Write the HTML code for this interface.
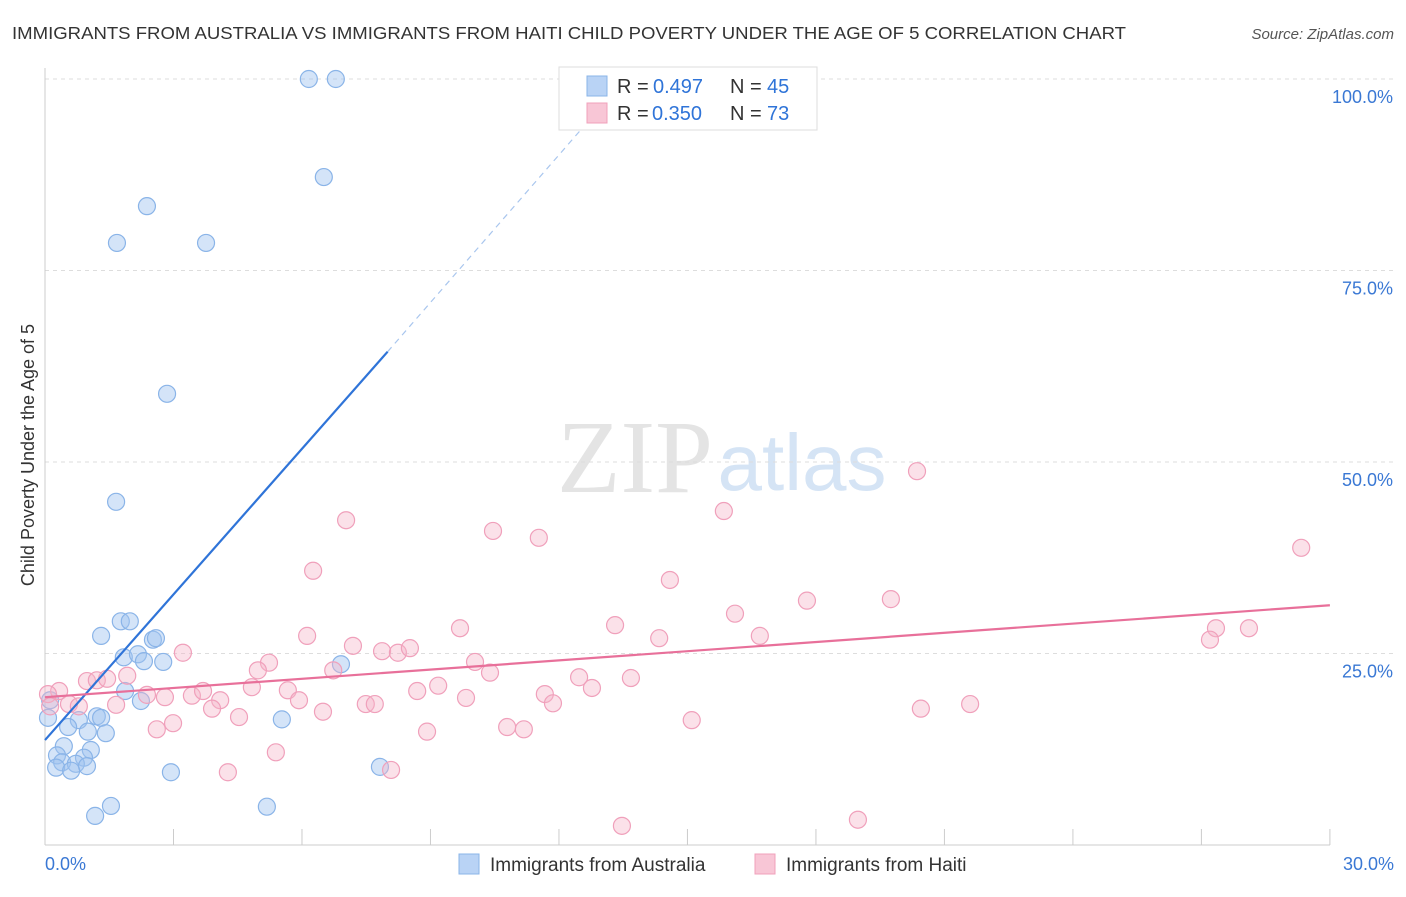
<!DOCTYPE html>
<html><head><meta charset="utf-8">
<style>
body{margin:0;background:#fff;font-family:"Liberation Sans",sans-serif;}
svg text{font-family:"Liberation Sans",sans-serif;}
</style></head>
<body>
<svg id="chart" width="1406" height="892" viewBox="0 0 1406 892">
<text x="12" y="39" font-size="17.5" fill="#333" textLength="1114" lengthAdjust="spacingAndGlyphs">IMMIGRANTS FROM AUSTRALIA VS IMMIGRANTS FROM HAITI CHILD POVERTY UNDER THE AGE OF 5 CORRELATION CHART</text>
<text x="1394" y="39" font-size="15" fill="#555" text-anchor="end" font-style="italic">Source: ZipAtlas.com</text>
<g>
<text x="635" y="492" font-size="104" fill="#e4e4e4" text-anchor="middle" style="font-family:'Liberation Serif',serif">ZIP</text>
<text x="802" y="490" font-size="80" fill="#d5e4f5" text-anchor="middle">atlas</text>
</g>
<g id="grid"></g>
<g id="axes"></g>
<g id="marks"></g>
<g>
<rect x="559" y="67" width="258" height="63" fill="#fff" stroke="#ddd"/>
<rect x="587" y="76" width="20" height="20" fill="#b9d3f5" stroke="#8ab4e8"/>
<rect x="587" y="103" width="20" height="20" fill="#f8c6d6" stroke="#f0a0bb"/>
<text x="617" y="93" font-size="20" fill="#333">R =</text>
<text x="653" y="93" font-size="20" fill="#2f74d8">0.497</text>
<text x="730" y="93" font-size="20" fill="#333">N =</text>
<text x="767" y="93" font-size="20" fill="#2f74d8">45</text>
<text x="617" y="120" font-size="20" fill="#333">R =</text>
<text x="652" y="120" font-size="20" fill="#2f74d8">0.350</text>
<text x="730" y="120" font-size="20" fill="#333">N =</text>
<text x="767" y="120" font-size="20" fill="#2f74d8">73</text>
</g>
<g>
<rect x="459" y="854" width="20" height="20" fill="#b9d3f5" stroke="#8ab4e8"/>
<text x="490" y="871" font-size="19" fill="#333">Immigrants from Australia</text>
<rect x="755" y="854" width="20" height="20" fill="#f8c6d6" stroke="#f0a0bb"/>
<text x="786" y="871" font-size="19" fill="#333">Immigrants from Haiti</text>
</g>
<text transform="translate(34,455) rotate(-90)" font-size="18" fill="#333" text-anchor="middle">Child Poverty Under the Age of 5</text>
</svg>
<script>
const yTicks=[25,50,75,100];
const yTickLabels=["25.0%","50.0%","75.0%","100.0%"];
const xTicks=[0,3,6,9,12,15,18,21,24,27,30];
const ausX=[6.16,6.79,6.51,2.38,1.68,3.76,2.85,1.66,1.31,1.77,1.98,2.52,2.59,1.84,2.17,2.31,2.76,6.91,1.87,2.24,0.12,0.07,0.79,1.21,1.31,0.54,1.0,1.42,0.44,1.07,0.28,0.91,0.4,0.72,0.98,0.26,0.61,2.94,5.53,7.82,1.54,1.17,5.18];
const ausY=[100,100,87.2,83.4,78.6,78.6,58.9,44.8,27.3,29.2,29.2,26.8,27.0,24.5,24.9,24.0,23.9,23.6,20.1,18.8,18.9,16.6,16.3,16.8,16.6,15.4,14.8,14.6,12.9,12.4,11.7,11.4,10.8,10.6,10.3,10.1,9.7,9.5,16.4,10.2,5.1,3.8,5.0];
const haiX=[20.36,29.33,7.03,10.46,11.53,15.85,6.26,14.59,16.11,17.79,19.75,13.31,9.69,27.34,28.11,27.2,6.12,7.19,14.34,16.69,3.22,5.23,4.97,7.87,8.24,8.52,10.04,6.73,10.39,12.47,13.68,0.98,1.21,1.45,1.92,4.83,5.67,9.18,12.77,8.69,11.67,0.33,0.07,2.38,2.8,3.43,3.69,4.09,5.93,9.83,0.56,0.79,1.66,3.9,4.53,6.49,7.49,7.7,11.86,20.45,21.6,2.99,2.61,10.79,11.18,15.1,8.92,5.39,4.27,8.08,13.47,18.98,0.12];
const haiY=[48.8,38.8,42.4,41.0,40.1,43.6,35.8,34.6,30.2,31.9,32.1,28.7,28.3,28.3,28.3,26.8,27.3,26.0,27.0,27.3,25.1,23.8,22.8,25.3,25.1,25.7,23.9,22.8,22.5,21.9,21.8,21.4,21.5,21.7,22.1,20.6,20.2,20.8,20.5,20.1,19.7,20.1,19.7,19.6,19.3,19.5,20.1,18.9,18.9,19.2,18.4,18.1,18.3,17.8,16.7,17.4,18.4,18.4,18.5,17.8,18.4,15.9,15.1,15.4,15.1,16.3,14.8,12.1,9.5,9.8,2.5,3.3,18.1];
const ausLine=[0,13.7,8.0,64.4,12.5,93.3];
const haiLine=[0,19.3,30,31.3];
const X=v=>45+v*42.83, Y=v=>845-v*7.66;
const NS="http://www.w3.org/2000/svg";
function mk(tag,attrs,parent){const e=document.createElementNS(NS,tag);for(const k in attrs)e.setAttribute(k,attrs[k]);document.getElementById(parent).appendChild(e);return e;}
yTicks.forEach((t,i)=>{
 const g=mk('line',{x1:45,x2:1394,y1:Y(t),y2:Y(t),stroke:'#ddd','stroke-dasharray':'4,4'},'grid');
 
 
 const l=mk('text',{x:1393,y:Y(t)+24,'font-size':18,fill:'#3a78d4','text-anchor':'end'},'axes');
 l.textContent=yTickLabels[i];
 
 
});
const ax=mk('line',{x1:45,x2:1330,y1:845,y2:845,stroke:'#ccc'},'axes');


const ay=mk('line',{x1:45,x2:45,y1:68,y2:845,stroke:'#ccc'},'axes');


xTicks.forEach(t=>{
 const k=mk('line',{x1:X(t),x2:X(t),y1:829,y2:845,stroke:'#ccc'},'axes');
 
 
});
const x0=mk('text',{x:45,y:870,'font-size':18,fill:'#3a78d4'},'axes');x0.textContent='0.0%';


const x1=mk('text',{x:1394,y:870,'font-size':18,fill:'#3a78d4','text-anchor':'end'},'axes');x1.textContent='30.0%';


const bd=mk('line',{x1:X(ausLine[2]),y1:Y(ausLine[3]),x2:X(ausLine[4]),y2:Y(ausLine[5]),stroke:'#a9c6ee','stroke-width':1.2,'stroke-dasharray':'6,5'},'marks');


ausX.forEach((v,i)=>{
 const c=mk('circle',{cx:X(v),cy:Y(ausY[i]),r:8.5,fill:'rgba(160,195,240,0.45)',stroke:'#8ab4e8','stroke-width':1.2},'marks');
 
 
});
haiX.forEach((v,i)=>{
 const c=mk('circle',{cx:X(v),cy:Y(haiY[i]),r:8.5,fill:'rgba(245,180,200,0.4)',stroke:'#f0a0bb','stroke-width':1.2},'marks');
 
 
});
const bl=mk('line',{x1:X(ausLine[0]),y1:Y(ausLine[1]),x2:X(ausLine[2]),y2:Y(ausLine[3]),stroke:'#2f74d8','stroke-width':2.2},'marks');


const pl=mk('line',{x1:X(haiLine[0]),y1:Y(haiLine[1]),x2:X(haiLine[2]),y2:Y(haiLine[3]),stroke:'#e8709a','stroke-width':2.2},'marks');


</script>
</body></html>
